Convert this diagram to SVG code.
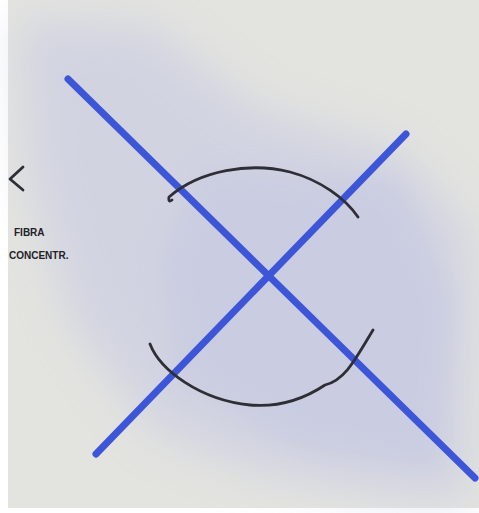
<svg xmlns="http://www.w3.org/2000/svg" width="479" height="513" viewBox="0 0 479 513">
<defs>
<filter id="blur" x="-30%" y="-30%" width="160%" height="160%"><feGaussianBlur stdDeviation="22"/></filter>
<filter id="blur2" x="-30%" y="-30%" width="160%" height="160%"><feGaussianBlur stdDeviation="12"/></filter>
<style>
.pen{fill:none;stroke:#3d56d8;stroke-width:7;stroke-linecap:round}
.ink{fill:none;stroke:#2e2e36;stroke-width:2.8;stroke-linecap:round;stroke-linejoin:round}
.hand{font-family:"Liberation Sans",Arial,sans-serif;font-weight:bold;fill:#222228;font-size:10px}
</style>
</defs>
<rect width="479" height="513" fill="#ffffff"/>
<rect x="8" y="0" width="471" height="508" fill="#e3e3df"/>
<g id="wash">
<path d="M20,20 L150,25 L260,110 L400,150 L470,230 L470,500 L380,495 L250,470 L150,430 L70,320 L30,180 Z" fill="#cfd1e2" filter="url(#blur)" opacity="0.85"/>
<path d="M200,170 L400,180 L455,300 L440,470 L300,450 L180,380 L160,260 Z" fill="#c6c9e1" filter="url(#blur2)" opacity="0.6"/>
</g>
<g id="connectors">
<line class="pen" x1="68" y1="79" x2="475" y2="478"/>
<line class="pen" x1="406" y1="134" x2="96" y2="454"/>
</g>
<g id="upper-arc">
<path class="ink" d="M172,200 Q168,203 169,197 C200,170 250,162 290,172 C320,180 345,198 358,217"/>
</g>
<g id="lower-arc">
<path class="ink" d="M150,344 C160,370 200,400 250,405 C285,408 310,395 325,385 C345,380 355,360 373,330"/>
</g>
<g id="label">
<path class="ink" d="M23,167 L10,179 L23,190" stroke-width="3"/>
<text class="hand" x="14" y="236">FIBRA</text>
<text class="hand" x="9" y="259">CONCENTR.</text>
</g>
</svg>
